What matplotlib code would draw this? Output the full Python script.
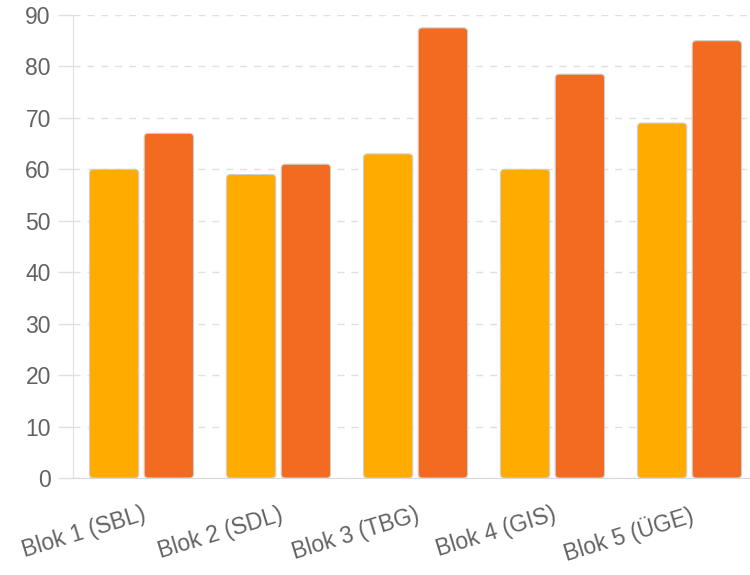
import matplotlib
matplotlib.use("Agg")
import matplotlib.pyplot as plt
import numpy as np
from matplotlib.patches import FancyBboxPatch

categories = ["Blok 1 (SBL)", "Blok 2 (SDL)", "Blok 3 (TBG)", "Blok 4 (GIS)", "Blok 5 (ÜGE)"]
series_a = [60, 59, 63, 60, 69]
series_b = [67, 61, 87.5, 78.5, 85]
y_ticks = [0, 10, 20, 30, 40, 50, 60, 70, 80, 90]

plt.rcParams['font.family'] = ['Liberation Sans', 'DejaVu Sans']

fig = plt.figure(figsize=(7.5, 5.75), dpi=100)
ax = fig.add_axes([73/750, 97/575, 685/750, 463/575])

x = np.arange(len(categories))
w = 0.36
off = 0.2
colors = ["#FFAB00", "#F26B21"]
for vals, o, c in [(series_a, -off, colors[0]), (series_b, off, colors[1])]:
    bars = ax.bar(x + o, vals, width=w, color=c, edgecolor="none", zorder=3)
    for b in bars:
        b.set_visible(False)
        bx, by = b.get_x(), b.get_y()
        bw, bh = b.get_width(), b.get_height()
        p = FancyBboxPatch((bx, by), bw, bh,
                           boxstyle="round,pad=0,rounding_size=0.03",
                           mutation_aspect=90/463*685/5,
                           facecolor=c, edgecolor="#cfcfcf", linewidth=0.8, zorder=3)
        ax.add_patch(p)

ax.set_xlim(-0.5, len(categories) - 0.5)
ax.set_ylim(0, 90)
ax.set_yticks(y_ticks)
ax.set_yticklabels([str(v) for v in y_ticks], fontsize=16.5, color="#626262")
ax.set_xticks(x)
ax.set_xticklabels(categories, fontsize=16.5, color="#626262", rotation=17,
                   ha="right", rotation_mode="anchor")
ax.tick_params(axis="y", length=11, color="#e0e0e0", width=1, pad=5)
ax.tick_params(axis="x", length=0, pad=18)

ax.yaxis.grid(True, linestyle=(0, (5, 5)), color="#e0e0e0", linewidth=1, zorder=0)
ax.set_axisbelow(True)
for s in ["top", "right"]:
    ax.spines[s].set_visible(False)
ax.spines["left"].set_color("#e0e0e0")
ax.spines["bottom"].set_color("#d8d8d8")

fig.savefig("out.png", dpi=100)
